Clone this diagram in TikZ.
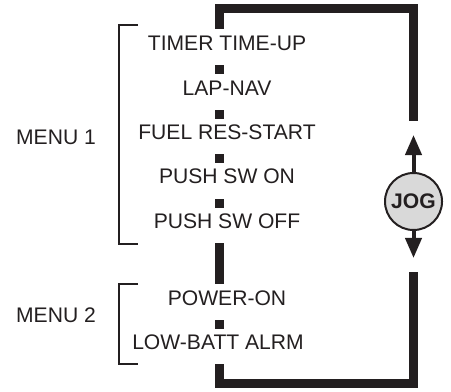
\documentclass[tikz,border=0pt]{standalone}
\usepackage{fontspec}
\setmainfont{Liberation Sans}
\usetikzlibrary{
    arrows.meta,
    positioning
}
\definecolor{ink}{HTML}{231F20}
\tikzstyle{item} = [
    inner sep=0pt,
    text=ink,
    font=\fontsize{15}{18}\selectfont
]
\tikzstyle{sqmark} = [
    rectangle,
    fill=ink,
    inner sep=0pt,
    minimum size=0.225cm
]
\tikzstyle{track} = [
    draw=ink,
    line width=0.225cm,
    line cap=butt,
    line join=miter
]
\tikzstyle{bracket} = [
    draw=ink,
    line width=0.05cm
]
\tikzstyle{jogarrow} = [
    -{Triangle[length=0.5cm, width=0.4cm]},
    draw=ink,
    fill=ink,
    line width=0.1cm
]

\begin{document}
\begin{tikzpicture}[x=0.025cm, y=-0.025cm]
        \useasboundingbox (0,0) rectangle (451,392);

        % Menu entries
        \node[item] (timer) at (227,43.5) {TIMER TIME-UP};
        \node[item] (lapnav) at (227,88) {LAP-NAV};
        \node[item] (fuel) at (227,132) {FUEL RES-START};
        \node[item] (pushon) at (227,176.5) {PUSH SW ON};
        \node[item] (pushoff) at (227,221.5) {PUSH SW OFF};
        \node[item] (poweron) at (227,298) {POWER-ON};
        \node[item] (lowbatt) at (218,342.5) {LOW-BATT ALRM};

        % Separators
        \node[sqmark] (sepa) at (219.5,69.5) {};
        \node[sqmark] (sepb) at (219.5,114.5) {};
        \node[sqmark] (sepc) at (219.5,158.5) {};
        \node[sqmark] (sepd) at (219.5,203.5) {};
        \node[sqmark] (sepe) at (219.5,324) {};

        % Menu labels
        \node[item] (menuone) at (56,137.5) {MENU 1};
        \node[item] (menutwo) at (56,315.5) {MENU 2};

        % Brackets
        \draw[bracket] (138,25) -- (118.5,25) -- (118.5,244) -- (138,244);
        \draw[bracket] (138,283.5) -- (118.5,283.5) -- (118.5,364) -- (138,364);

        % Loop
        \coordinate (tracka) at (219.5,29);
        \coordinate (trackb) at (413.5,121);
        \coordinate (trackc) at (219.5,243);
        \coordinate (trackd) at (219.5,284);
        \coordinate (tracke) at (219.5,364);
        \coordinate (trackf) at (413.5,272);
        \draw[track] (tracka) -- (219.5,8.5) -| (trackb);
        \draw[track] (trackc) -- (trackd);
        \draw[track] (tracke) -- (219.5,383.5) -| (trackf);

        % Jog dial
        \node[circle, draw=ink, line width=0.05cm, fill=gray!30,
              minimum size=1.425cm, inner sep=0pt, text=ink,
              font=\fontsize{15}{18}\selectfont\bfseries] (jog) at (413.5,201.5) {JOG};
        \coordinate (uptip) at (413.5,135);
        \coordinate (downtip) at (413.5,258);
        \draw[jogarrow] (jog.north) -- (uptip);
        \draw[jogarrow] (jog.south) -- (downtip);
    \end{tikzpicture}
\end{document}
